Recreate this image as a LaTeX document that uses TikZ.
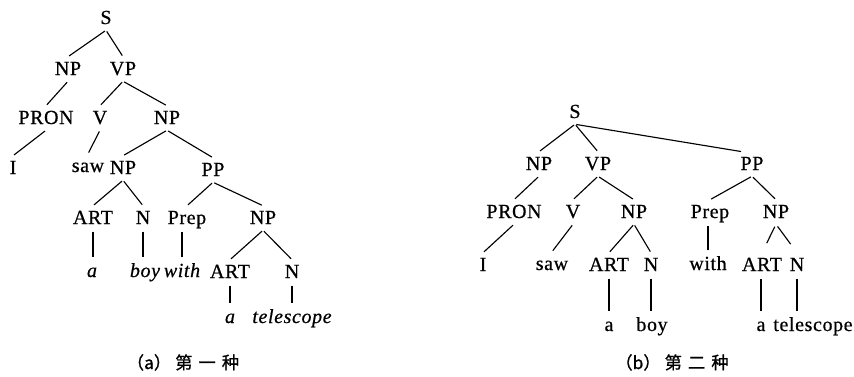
\documentclass[tikz,border=0pt]{standalone}
\usepackage{fontspec}
\setmainfont{Liberation Serif}
\newfontfamily\treefont{Liberation Serif}[LetterSpace=3,FakeBold=0.6]
\newfontfamily\cjk{Noto Sans CJK SC}[FakeBold=1]
\begin{document}
\begin{tikzpicture}[x=0.75pt,y=-0.75pt,
  lbl/.style={anchor=base, inner sep=1.5pt, text height=12pt, text depth=3pt,
              font=\treefont\fontsize{15}{18}\selectfont},
  it/.style={font=\treefont\itshape\fontsize{15}{18}\selectfont},
  edge/.style={line width=0.85pt, shorten <=1pt, shorten >=1pt},
  shortedge/.style={line width=0.85pt, shorten <=2pt, shorten >=8pt},
  caption/.style={anchor=base, inner sep=0pt, font=\cjk\fontsize{13}{15}\selectfont}]
\useasboundingbox (0,0) rectangle (854,376);

% ---------- (a) PP attached inside the object NP ----------
\node[lbl] (aS)    at (106,24)  {S};
\node[lbl] (aNP)   at (68,75)   {NP};
\node[lbl] (aVP)   at (123,75)  {VP};
\node[lbl] (aPRON) at (46,124)  {PRON};
\node[lbl] (aV)    at (100,124) {V};
\node[lbl] (aNPo)  at (167,124) {NP};
\node[lbl] (aI)    at (13,174)  {I};
\node[lbl] (asaw)  at (88,172)  {saw};
\node[lbl] (aNPb)  at (123,174) {NP};
\node[lbl] (aPP)   at (213,176) {PP};
\node[lbl] (aART)  at (93,224)  {ART};
\node[lbl] (aN)    at (143,224) {N};
\node[lbl] (aPrep) at (187,224) {Prep};
\node[lbl] (aNPt)  at (263,224) {NP};
\node[lbl,it] (aa)    at (92,277)  {a};
\node[lbl,it] (aboy)  at (145,277) {boy};
\node[lbl,it] (awith) at (182,277) {with};
\node[lbl] (aARTt) at (230,278) {ART};
\node[lbl] (aNt)   at (292,278) {N};
\node[lbl,it] (aat)  at (230,323) {a};
\node[lbl,it] (atel) at (292,323) {telescope};

\draw[edge] (aS.south) -- (aNP.north);
\draw[edge] (aS.south) -- (aVP.north);
\draw[edge] (aNP.south) -- (aPRON.north);
\draw[edge] (aPRON.south) -- (aI.north);
\draw[edge] (aVP.south) -- (aV.north);
\draw[edge] (aVP.south) -- (aNPo.north);
\draw[edge] (aV.south) -- (asaw.north);
\draw[edge] (aNPo.south) -- (aNPb.north);
\draw[edge] (aNPo.south) -- (aPP.north);
\draw[edge] (aNPb.south) -- (aART.north);
\draw[edge] (aNPb.south) -- (aN.north);
\draw[edge] (aPP.south) -- (aPrep.north);
\draw[edge] (aPP.south) -- (aNPt.north);
\draw[edge] (aNPt.south) -- (aARTt.north);
\draw[edge] (aNPt.south) -- (aNt.north);
\draw[edge] (aART.south) -- (aART.south |- aa.north);
\draw[edge] (aN.south) -- (aN.south |- aboy.north);
\draw[edge] (awith.north) -- (awith.north |- aPrep.south);
\draw[edge] (aARTt.south) -- (aARTt.south |- aat.north);
\draw[edge] (aNt.south) -- (aNt.south |- atel.north);

\node[caption] (capa) at (183,369) {（a）\kern3pt 第\kern4.5pt 一\kern4.5pt 种};

% ---------- (b) PP attached to the sentence ----------
\node[lbl] (bS)    at (575,118) {S};
\node[lbl] (bNP)   at (539,170) {NP};
\node[lbl] (bVP)   at (598,170) {VP};
\node[lbl] (bPP)   at (752,170) {PP};
\node[lbl] (bPRON) at (514,218) {PRON};
\node[lbl] (bV)    at (573,218) {V};
\node[lbl] (bNPo)  at (634,218) {NP};
\node[lbl] (bPrep) at (710,218) {Prep};
\node[lbl] (bNPt)  at (776,218) {NP};
\node[lbl] (bI)    at (483,271) {I};
\node[lbl] (bsaw)  at (552,270) {saw};
\node[lbl] (bART)  at (609,271) {ART};
\node[lbl] (bN)    at (651,271) {N};
\node[lbl] (bwith) at (708,270) {with};
\node[lbl] (bARTt) at (762,271) {ART};
\node[lbl] (bNt)   at (797,271) {N};
\node[lbl] (ba)    at (609,331) {a};
\node[lbl] (bboy)  at (652,331) {boy};
\node[lbl] (bat)   at (761,331) {a};
\node[lbl] (btel)  at (813,331) {telescope};

\draw[edge] (bS.south) -- (bNP.north);
\draw[edge] (bS.south) -- (bVP.north);
\draw[edge] (bS.south) -- ([xshift=3pt]bPP.north west);
\draw[edge] (bNP.south) -- (bPRON.north);
\draw[edge] (bPRON.south) -- (bI.north);
\draw[edge] (bVP.south) -- (bV.north);
\draw[edge] (bVP.south) -- (bNPo.north);
\draw[edge] (bV.south) -- (bsaw.north);
\draw[edge] (bNPo.south) -- (bART.north);
\draw[edge] (bNPo.south) -- (bN.north);
\draw[edge] (bPP.south) -- (bPrep.north);
\draw[edge] (bPP.south) -- (bNPt.north);
\draw[shortedge] (bNPt.south) -- (bARTt.north);
\draw[shortedge] (bNPt.south) -- (bNt.north);
\draw[edge] (bART.south) -- (bART.south |- ba.north);
\draw[edge] (bN.south) -- (bN.south |- bboy.north);
\draw[edge] (bwith.north) -- (bwith.north |- bPrep.south);
\draw[edge] (bat.north) -- (bat.north |- bARTt.south);
\draw[edge] (bNt.south) -- (bNt.south |- btel.north);

\node[caption] (capb) at (672,369) {（b）\kern3pt 第\kern4.5pt 二\kern4.5pt 种};
\end{tikzpicture}
\end{document}
